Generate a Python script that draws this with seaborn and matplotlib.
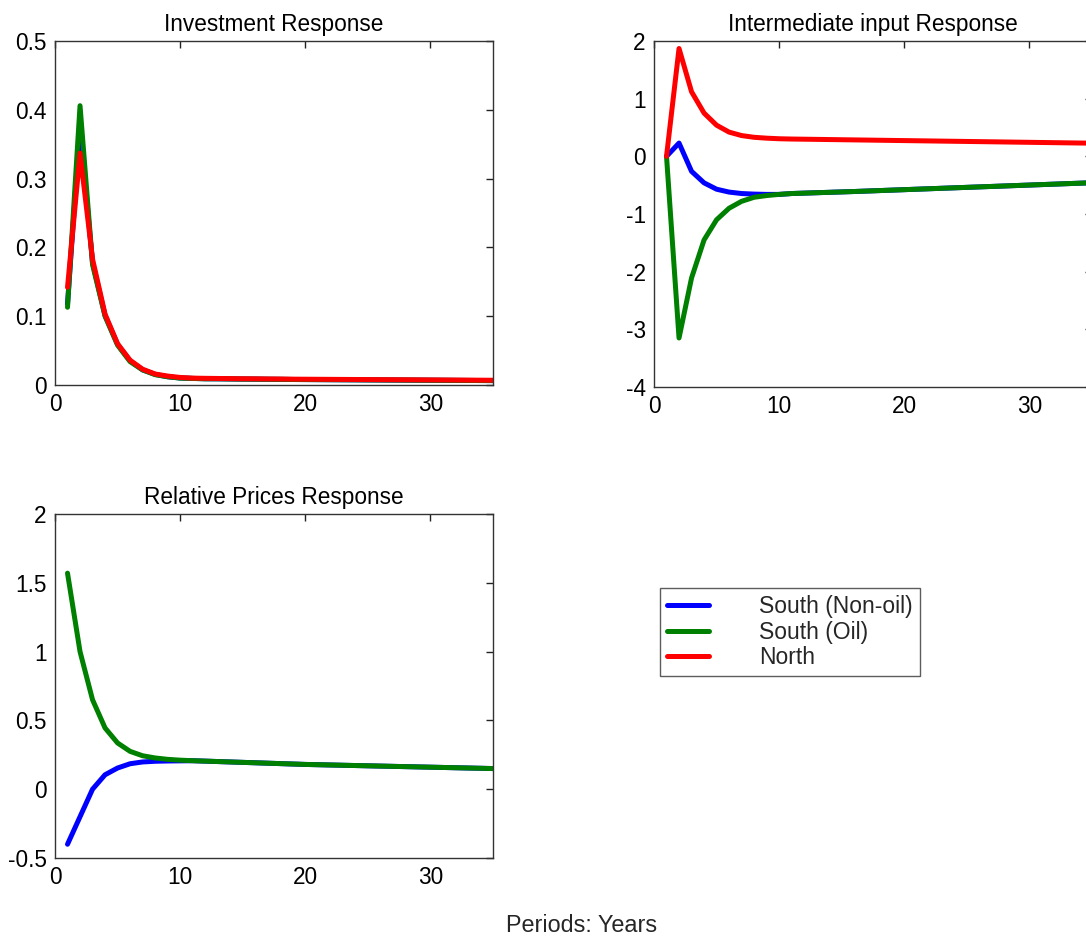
import numpy as np
import pandas as pd
import matplotlib
matplotlib.use("Agg")
import matplotlib.pyplot as plt
import seaborn as sns
from matplotlib.lines import Line2D

periods = list(range(1, 36))
regions = ["South (Non-oil)", "South (Oil)", "North"]
colors = {"South (Non-oil)": "#0000ff", "South (Oil)": "#008000", "North": "#ff0000"}

inv_nonoil = [0.118, 0.375, 0.178, 0.101, 0.059, 0.035, 0.022, 0.0155, 0.012, 0.0102, 0.0096, 0.0091, 0.009, 0.0088,
              0.0086, 0.0085, 0.0083, 0.0082, 0.008, 0.0079, 0.0078, 0.0077, 0.0076, 0.0075, 0.0074, 0.0073, 0.0072,
              0.0071, 0.007, 0.0069, 0.0068, 0.0067, 0.0066, 0.0065, 0.0064]
inv_oil = [0.113, 0.406, 0.175, 0.100, 0.058, 0.034, 0.022, 0.015, 0.012, 0.010, 0.0095, 0.009, 0.009, 0.0088,
           0.0086, 0.0085, 0.0083, 0.0082, 0.008, 0.0079, 0.0078, 0.0077, 0.0076, 0.0075, 0.0074, 0.0073, 0.0072,
           0.0071, 0.007, 0.0069, 0.0068, 0.0067, 0.0066, 0.0065, 0.0064]
inv_north = [0.142, 0.337, 0.183, 0.103, 0.060, 0.036, 0.023, 0.016, 0.013, 0.011, 0.010, 0.0097, 0.0095, 0.0093,
             0.0091, 0.009, 0.0088, 0.0087, 0.0085, 0.0084, 0.0083, 0.0082, 0.0081, 0.008, 0.0079, 0.0078, 0.0077,
             0.0076, 0.0075, 0.0074, 0.0073, 0.0072, 0.0071, 0.007, 0.0069]

int_nonoil = [0.0, 0.23, -0.26, -0.46, -0.57, -0.62, -0.645, -0.655, -0.66, -0.66, -0.645, -0.638, -0.631, -0.624,
              -0.617, -0.610, -0.602, -0.594, -0.586, -0.578, -0.570, -0.562, -0.554, -0.546, -0.538, -0.530, -0.522,
              -0.514, -0.506, -0.498, -0.490, -0.482, -0.474, -0.466, -0.458]
int_oil = [0.0, -3.15, -2.11, -1.45, -1.10, -0.90, -0.78, -0.71, -0.68, -0.66, -0.645, -0.638, -0.631, -0.624,
           -0.617, -0.610, -0.602, -0.594, -0.586, -0.578, -0.570, -0.562, -0.554, -0.546, -0.538, -0.530, -0.522,
           -0.514, -0.506, -0.498, -0.490, -0.482, -0.474, -0.466, -0.458]
int_north = [0.0, 1.87, 1.12, 0.75, 0.54, 0.42, 0.36, 0.33, 0.315, 0.305, 0.30, 0.297, 0.294, 0.291, 0.288, 0.285,
             0.282, 0.279, 0.276, 0.273, 0.27, 0.267, 0.264, 0.261, 0.258, 0.255, 0.252, 0.249, 0.246, 0.243, 0.24,
             0.237, 0.234, 0.231, 0.228]

rp_nonoil = [-0.40, -0.20, 0.0, 0.105, 0.154, 0.185, 0.198, 0.203, 0.205, 0.206, 0.207, 0.204, 0.201, 0.198, 0.195,
             0.192, 0.189, 0.186, 0.183, 0.18, 0.178, 0.176, 0.174, 0.172, 0.170, 0.168, 0.166, 0.164, 0.162, 0.160,
             0.158, 0.156, 0.154, 0.152, 0.150]
rp_oil = [1.57, 1.0, 0.65, 0.445, 0.336, 0.275, 0.243, 0.227, 0.217, 0.211, 0.207, 0.204, 0.201, 0.198, 0.195, 0.192,
          0.189, 0.186, 0.183, 0.18, 0.178, 0.176, 0.174, 0.172, 0.170, 0.168, 0.166, 0.164, 0.162, 0.160, 0.158,
          0.156, 0.154, 0.152, 0.150]

inv_yticks = [0, 0.1, 0.2, 0.3, 0.4, 0.5]
inv_ylabels = ["0", "0.1", "0.2", "0.3", "0.4", "0.5"]
int_yticks = [-4, -3, -2, -1, 0, 1, 2]
int_ylabels = ["-4", "-3", "-2", "-1", "0", "1", "2"]
rp_yticks = [-0.5, 0, 0.5, 1, 1.5, 2]
rp_ylabels = ["-0.5", "0", "0.5", "1", "1.5", "2"]
xticks = [0, 10, 20, 30]
xlabels = ["0", "10", "20", "30"]


def long_df(series):
    frames = []
    for name, vals in series.items():
        frames.append(pd.DataFrame({"period": periods, "value": vals, "region": name}))
    return pd.concat(frames, ignore_index=True)


sns.set_theme(style="white")
plt.rcParams["font.family"] = ["Liberation Sans", "DejaVu Sans"]
plt.rcParams["axes.unicode_minus"] = False

fig = plt.figure(figsize=(10.86, 9.4), dpi=100)
W, H = 1086, 940


def make_ax(l, r, t, b):
    return fig.add_axes([l / W, 1 - b / H, (r - l) / W, (b - t) / H])


ax1 = make_ax(55, 493, 41, 385)
ax2 = make_ax(654, 1092, 41, 387)
ax3 = make_ax(55, 493, 514, 858)

panels = [
    (ax1, {"South (Non-oil)": inv_nonoil, "South (Oil)": inv_oil, "North": inv_north},
     "Investment Response", (0, 0.5), inv_yticks, inv_ylabels),
    (ax2, {"South (Non-oil)": int_nonoil, "South (Oil)": int_oil, "North": int_north},
     "Intermediate input Response", (-4, 2), int_yticks, int_ylabels),
    (ax3, {"South (Non-oil)": rp_nonoil, "South (Oil)": rp_oil},
     "Relative Prices Response", (-0.5, 2), rp_yticks, rp_ylabels),
]

for ax, series, title, ylim, yt, yl in panels:
    df = long_df(series)
    order = [r for r in regions if r in series]
    sns.lineplot(data=df, x="period", y="value", hue="region", hue_order=order,
                 palette=colors, linewidth=3.6, legend=False, ax=ax, estimator=None)
    ax.set_xlim(0, 35)
    ax.set_ylim(*ylim)
    ax.set_xticks(xticks)
    ax.set_xticklabels(xlabels)
    ax.set_yticks(yt)
    ax.set_yticklabels(yl)
    ax.set_xlabel("")
    ax.set_ylabel("")
    ax.set_title(title, fontsize=16.3, pad=7, color="black")
    ax.tick_params(direction="in", length=5, width=1, top=True, right=True,
                   labelsize=16.3, colors="#222222", labelcolor="black", pad=6)
    for s in ax.spines.values():
        s.set_color("#333333")
        s.set_linewidth(1.0)
        s.set_visible(True)

handles = [Line2D([0], [0], color=colors[r], linewidth=3.6) for r in regions]
leg = fig.legend(handles, regions, loc="upper left", bbox_to_anchor=(660 / W, 1 - 588 / H),
                 fontsize=16.5, frameon=True, fancybox=False, handlelength=1.85, handletextpad=2.17,
                 labelspacing=0.12, borderpad=0.3, borderaxespad=0)
leg.get_frame().set_edgecolor("#333333")
leg.get_frame().set_linewidth(1.0)

fig.text(582 / W, 1 - 925 / H, "Periods: Years", ha="center", va="center", fontsize=16.8)

fig.savefig("out.png", dpi=100, facecolor="white")
